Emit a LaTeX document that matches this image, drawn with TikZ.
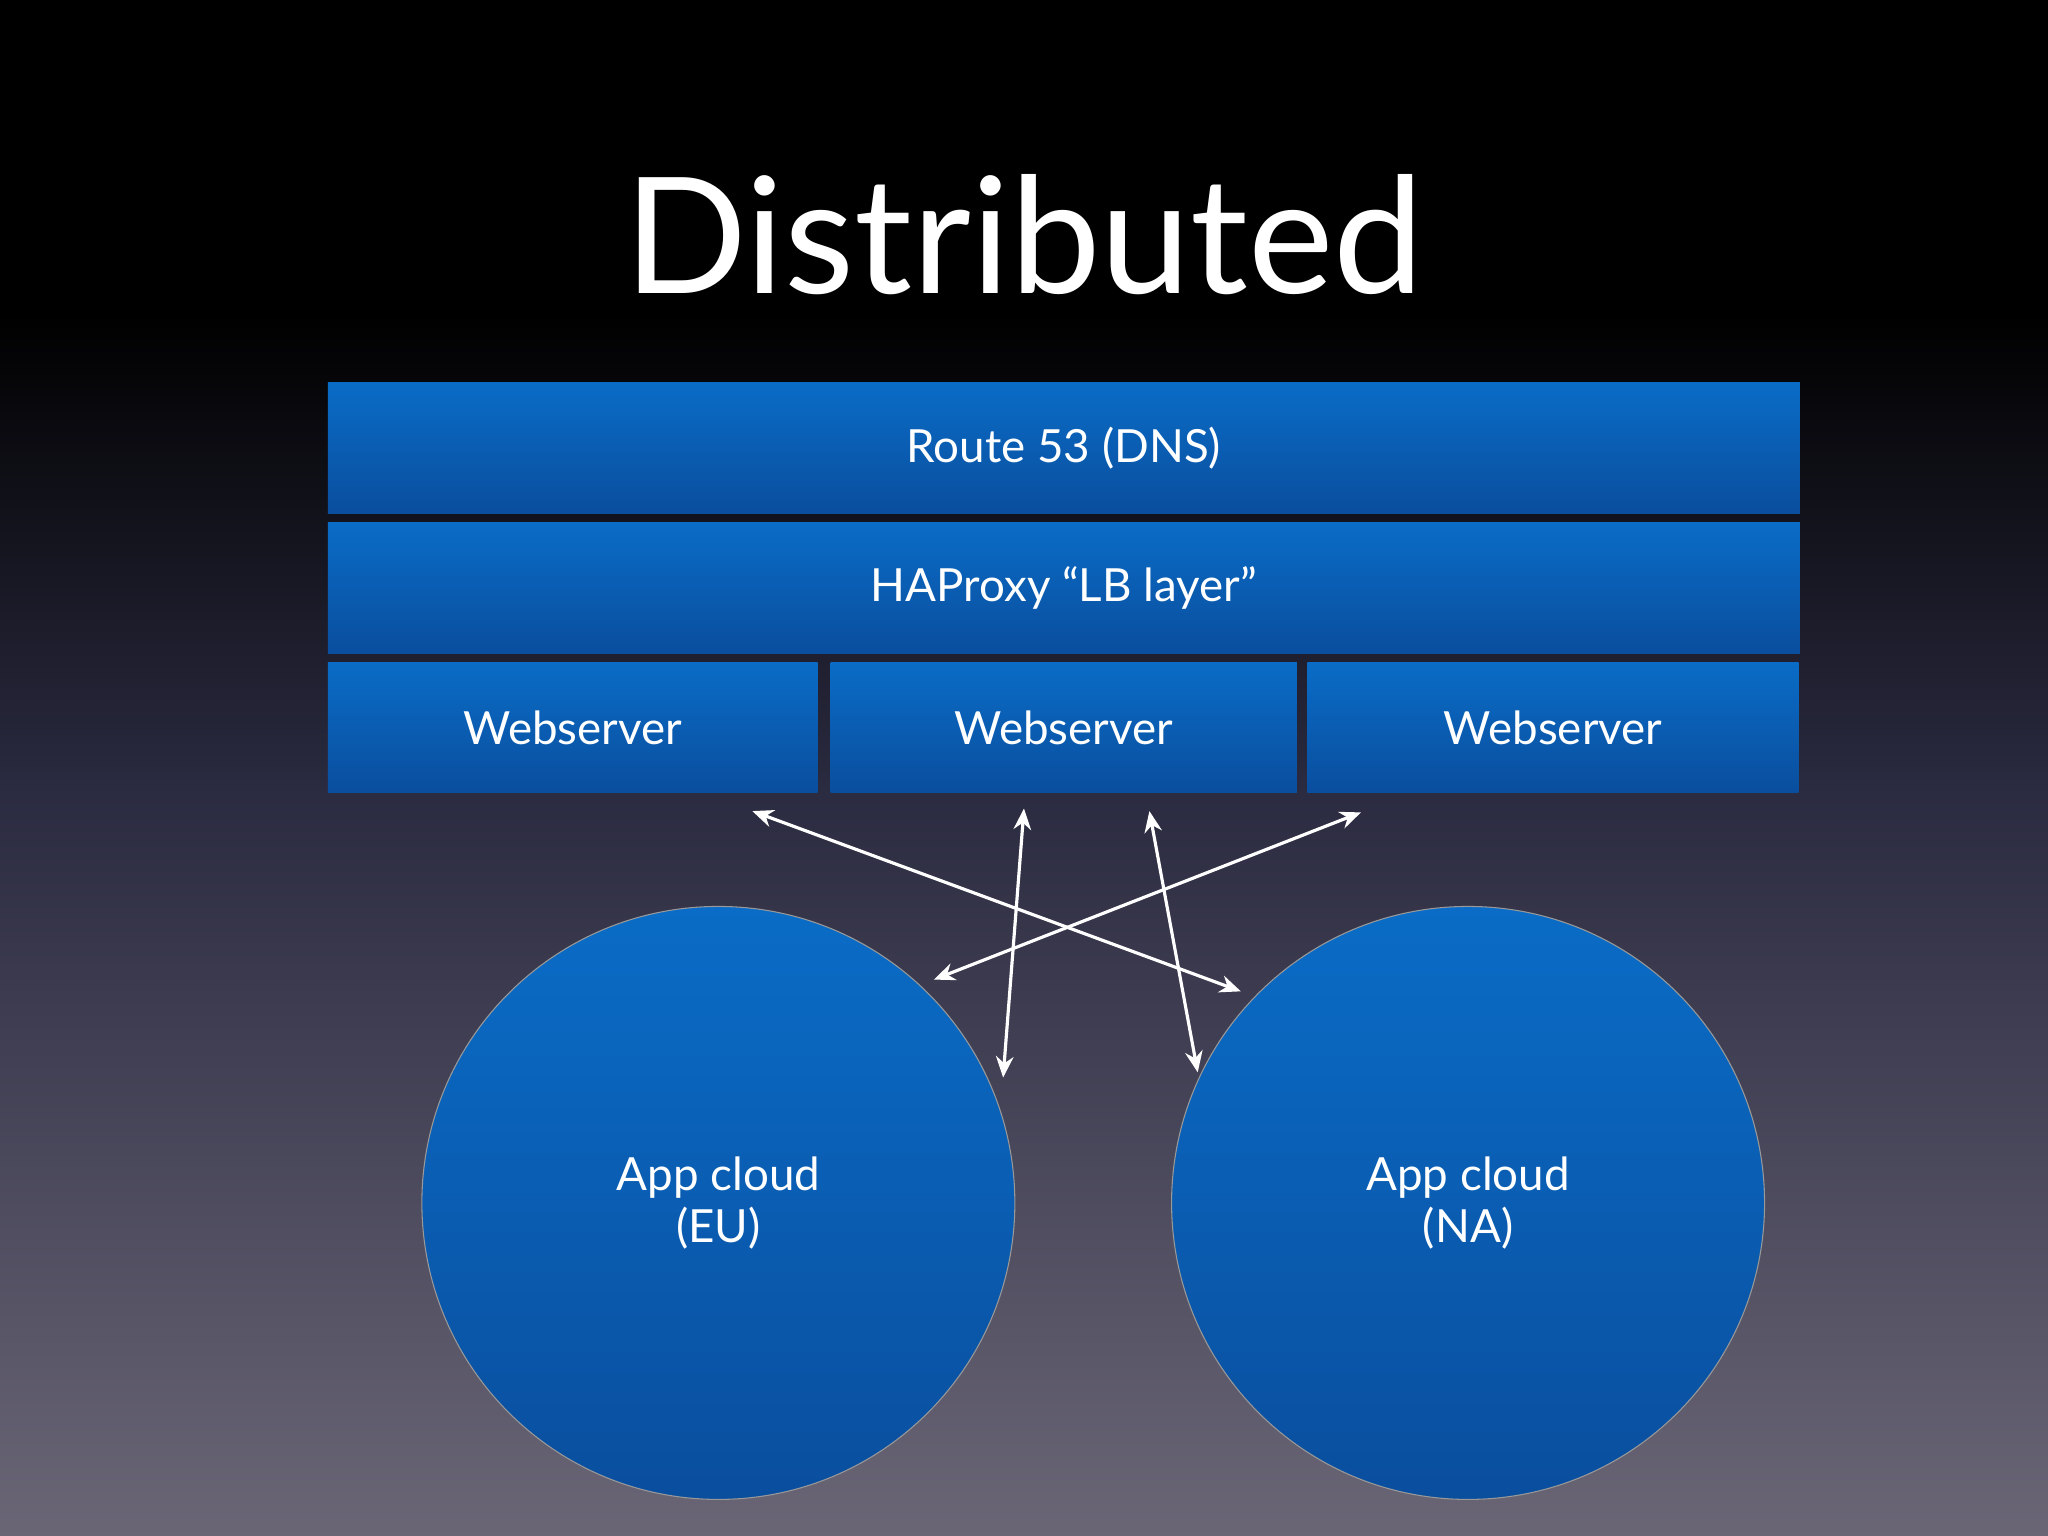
\documentclass[tikz,border=0pt]{standalone}
\usepackage{fontspec}
\setmainfont{Lato}
\usetikzlibrary{arrows.meta}
\definecolor{bgbot}{HTML}{6A6676}
\definecolor{bgmid}{HTML}{2A2A40}
\definecolor{btop}{HTML}{0A6CC6}
\definecolor{bbot}{HTML}{0A4E9E}
\begin{document}
\begin{tikzpicture}[x=0.0130612cm,y=-0.0130612cm,
  box/.style={draw=none,top color=btop,bottom color=bbot,text=white,font=\fontsize{13pt}{15pt}\selectfont,inner sep=0pt},
  cloud/.style={circle,draw=black!40,line width=0.3pt,top color=btop,bottom color=bbot,text=white,font=\fontsize{13pt}{15pt}\selectfont,align=center,minimum size=454*0.0130612cm,inner sep=0pt},
  link/.style={white,line width=0.9pt,{Stealth[length=6pt,width=5pt]}-{Stealth[length=6pt,width=5pt]}}]
\useasboundingbox (0,0) rectangle (1568,1176);
\fill[top color=black,bottom color=black] (0,0) rectangle (1568,240);
\shade[top color=black,bottom color=bgmid] (0,239) rectangle (1568,600);
\shade[top color=bgmid,bottom color=bgbot] (0,599) rectangle (1568,1176);
\node[text=white,font=\fontsize{46pt}{50pt}\selectfont] (title) at (784,180) {Distributed};
\node[box,minimum width=1127*0.0130612cm,minimum height=100*0.0130612cm] (dns) at (814.5,343) {Route 53 (DNS)};
\node[box,minimum width=1127*0.0130612cm,minimum height=100*0.0130612cm] (lb) at (814.5,450) {HAProxy “LB layer”};
\node[box,minimum width=375*0.0130612cm,minimum height=100*0.0130612cm] (w1) at (438.5,557) {Webserver};
\node[box,minimum width=357*0.0130612cm,minimum height=100*0.0130612cm] (w2) at (814.5,557) {Webserver};
\node[box,minimum width=376*0.0130612cm,minimum height=100*0.0130612cm] (w3) at (1189,557) {Webserver};
\node[cloud] (eu) at (550,921) {App cloud\\(EU)};
\node[cloud] (na) at (1124,921) {App cloud\\(NA)};
\coordinate (a1) at (576,621); \coordinate (b1) at (950,759);
\coordinate (a2) at (1042,622); \coordinate (b2) at (715,750);
\coordinate (a3) at (784,619); \coordinate (b3) at (768,825);
\coordinate (a4) at (880,621); \coordinate (b4) at (917,821);
\draw[link] (a1) -- (b1);
\draw[link] (a2) -- (b2);
\draw[link] (a3) -- (b3);
\draw[link] (a4) -- (b4);
\end{tikzpicture}
\end{document}
